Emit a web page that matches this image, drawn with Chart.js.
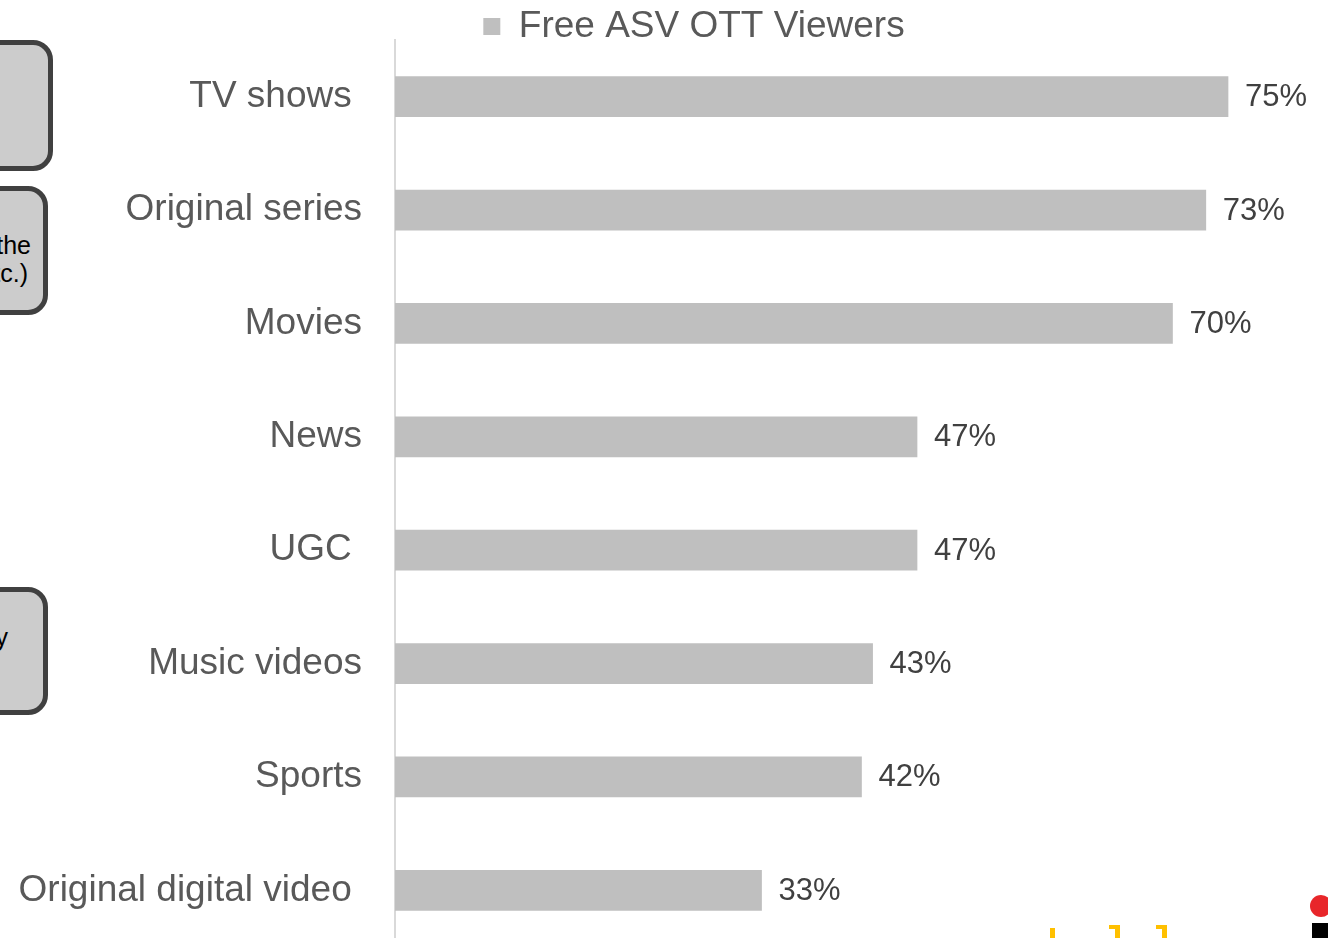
<!DOCTYPE html>
<html>
<head>
<meta charset="utf-8">
<script src="https://cdn.jsdelivr.net/npm/chart.js@4"></script>
<style>
  html, body { margin: 0; padding: 0; background: #fff; overflow: hidden; }
  body { width: 1328px; height: 938px; position: relative; font-family: "Liberation Sans", Arial, sans-serif; }
  #chartWrap { position: absolute; left: 0; top: 0; width: 1328px; height: 960px; }
  .box { position: absolute; background: #cccccc; border: 5px solid #404040; border-radius: 20px; box-sizing: border-box; }
  .boxText { position: absolute; color: #000; font-size: 25px; line-height: 27px; text-align: right; white-space: nowrap; }
  .mark { position: absolute; }
</style>
</head>
<body>
<!-- cut-off slide boxes on the left -->
<div class="box" style="left:-60px; top:40px; width:113px; height:131px;"></div>
<div class="box" style="left:-60px; top:186px; width:108px; height:129px;"></div>
<div class="boxText" style="left:-200px; top:232px; width:231px;">of the</div>
<div class="boxText" style="left:-200px; top:260px; width:228px;">etc.)</div>
<div class="box" style="left:-60px; top:587px; width:108px; height:128px;"></div>
<div class="boxText" style="left:-200px; top:624px; width:208px;">ly</div>
<!-- logo fragments, bottom right -->
<div class="mark" style="left:1050px; top:928px; width:5px; height:12px; background:#ffc000;"></div>
<div class="mark" style="left:1109px; top:925px; width:11px; height:4px; background:#ffc000;"></div>
<div class="mark" style="left:1115px; top:925px; width:5px; height:15px; background:#ffc000;"></div>
<div class="mark" style="left:1156px; top:925px; width:11px; height:4px; background:#ffc000;"></div>
<div class="mark" style="left:1162px; top:925px; width:5px; height:15px; background:#ffc000;"></div>
<div class="mark" style="left:1310px; top:895px; width:22px; height:22px; border-radius:50%; background:#e8262a;"></div>
<div class="mark" style="left:1312px; top:923px; width:20px; height:20px; background:#000;"></div>

<div id="chartWrap"><canvas id="chart" width="1328" height="960"></canvas></div>

<script>
// Chart data
const categories = ['TV shows ', 'Original series', 'Movies', 'News', 'UGC ', 'Music videos', 'Sports', 'Original digital video '];
const viewerShare = [75, 73, 70, 47, 47, 43, 42, 33];
const seriesName = 'Free ASV OTT Viewers';

// Draw the % labels at the end of each bar
const valueLabels = {
    id: 'valueLabels',
    afterDatasetsDraw(chart) {
        const ctx = chart.ctx;
        const meta = chart.getDatasetMeta(0);
        ctx.save();
        ctx.font = '31px "Liberation Sans", Arial, sans-serif';
        ctx.fillStyle = '#404040';
        ctx.textAlign = 'left';
        ctx.textBaseline = 'middle';
        meta.data.forEach((bar, i) => {
            ctx.fillText(viewerShare[i] + '%', bar.x + 17, bar.y + 1);
        });
        ctx.restore();
    }
};

// Legend sits tight above the plot and a bit right of centre, like the slide
const legendFit = {
    id: 'legendFit',
    beforeLayout(chart) {
        const legend = chart.legend;
        if (legend && !legend._fitPatched) {
            const fit = legend.fit;
            legend.fit = function () {
                fit.call(this);
                this.height = 34;
            };
            legend._fitPatched = true;
        }
    },
    afterLayout(chart) {
        chart.legend.left += 30;
        chart.legend.right += 30;
    }
};

const ctx = document.getElementById('chart').getContext('2d');
const chart = new Chart(ctx, {
    type: 'bar',
    data: {
        labels: categories,
        datasets: [{
            label: seriesName,
            data: viewerShare,
            backgroundColor: '#bfbfbf',
            borderWidth: 0,
            barThickness: 40
        }]
    },
    options: {
        indexAxis: 'y',
        responsive: false,
        animation: false,
        layout: { padding: { left: 0, right: 0, top: 6, bottom: 13 } },
        plugins: {
            legend: {
                position: 'top',
                labels: {
                    boxWidth: 17,
                    boxHeight: 17,
                    padding: 2,
                    color: '#595959',
                    font: { family: '"Liberation Sans", Arial, sans-serif', size: 37 }
                }
            },
            tooltip: { enabled: false }
        },
        scales: {
            x: {
                display: false,
                min: 0,
                max: 84
            },
            y: {
                grid: { display: false, drawTicks: false },
                border: { display: true, color: '#d9d9d9', width: 2 },
                ticks: {
                    padding: 33,
                    color: '#595959',
                    font: { family: '"Liberation Sans", Arial, sans-serif', size: 37 }
                },
                afterFit(scale) {
                    scale.width = 395;
                    scale.paddingTop = 0;
                    scale.paddingBottom = 0;
                }
            }
        }
    },
    plugins: [valueLabels, legendFit]
});
</script>
</body>
</html>
